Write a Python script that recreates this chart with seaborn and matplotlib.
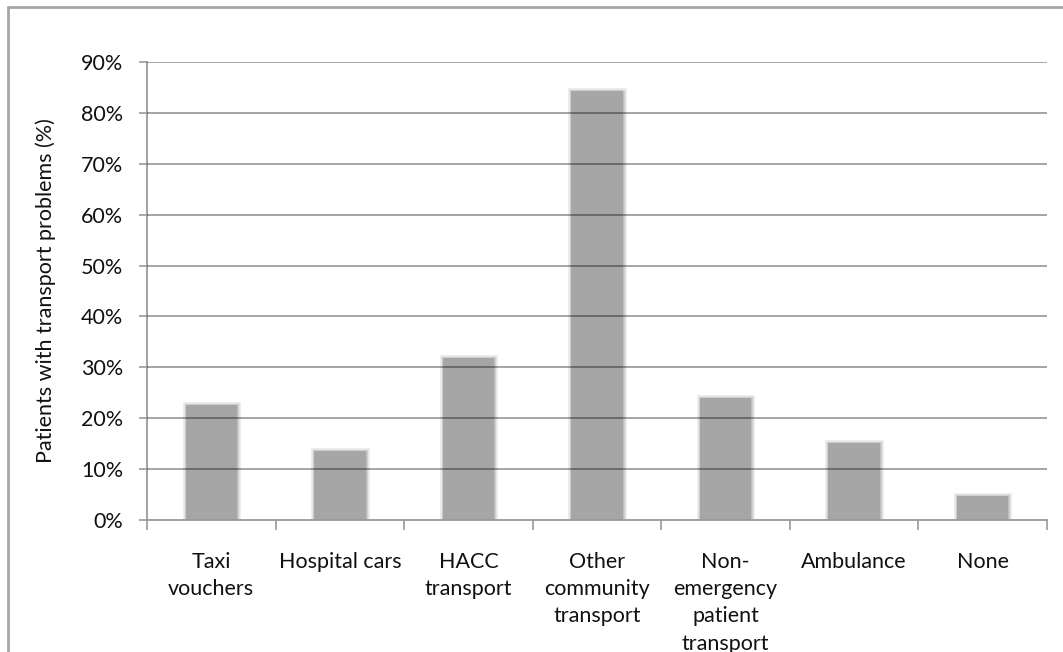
import matplotlib
matplotlib.use("Agg")
import matplotlib.pyplot as plt
import matplotlib.patheffects as pe
from matplotlib.lines import Line2D
from matplotlib.ticker import FixedLocator, FuncFormatter
import numpy as np
import pandas as pd
import seaborn as sns

# Transport used by patients reporting transport problems
categories = [
    "Taxi\nvouchers",
    "Hospital cars",
    "HACC\ntransport",
    "Other\ncommunity\ntransport",
    "Non-\nemergency\npatient\ntransport",
    "Ambulance",
    "None",
]
shares = [0.226, 0.135, 0.318, 0.843, 0.240, 0.151, 0.047]
y_ticks = [0.0, 0.1, 0.2, 0.3, 0.4, 0.5, 0.6, 0.7, 0.8, 0.9]
y_label = "Patients with transport problems (%)"

sns.set_theme(style="white")
plt.rcParams["font.family"] = ["Lato", "DejaVu Sans"]

bar_color = "#a6a6a6"
axis_color = "#9a9a9a"
text_color = "#111111"
fs = 15.5

df = pd.DataFrame({"category": categories, "share": shares})

fig = plt.figure(figsize=(10.63, 6.52), dpi=100)
ax = fig.add_axes([147 / 1063, 1 - 520 / 652, 900 / 1063, 458 / 652])

sns.barplot(data=df, x="category", y="share", color=bar_color,
            saturation=1, width=0.4, ax=ax, zorder=2)

# soft edges on the bars
for p in ax.patches:
    p.set_edgecolor("none")
    p.set_path_effects([
        pe.Stroke(linewidth=5, foreground=bar_color, alpha=0.2),
        pe.Stroke(linewidth=2.5, foreground=bar_color, alpha=0.45),
        pe.Normal(),
    ])

ax.set_ylim(0, 0.9)
ax.set_xlim(-0.5, len(categories) - 0.5)

# horizontal gridlines drawn over the bars
for t in y_ticks[1:]:
    ax.axhline(t, color="black", alpha=0.38, linewidth=1.3, zorder=3)

ax.yaxis.set_major_locator(FixedLocator(y_ticks))
ax.yaxis.set_major_formatter(FuncFormatter(lambda v, _: f"{v * 100:.0f}%"))
ax.tick_params(axis="y", which="major", direction="out", length=6, width=1.2,
               color=axis_color, left=True, pad=11, labelsize=fs,
               labelcolor=text_color)

# boundary ticks between categories, labels centred under bars
ax.xaxis.set_major_locator(FixedLocator(np.arange(-0.5, len(categories), 1.0)))
ax.xaxis.set_major_formatter(FuncFormatter(lambda v, _: ""))
ax.set_xticks(np.arange(len(categories)), minor=True)
ax.set_xticklabels(categories, minor=True, fontsize=fs, color=text_color,
                   linespacing=1.45, va="top", ha="center")
ax.tick_params(axis="x", which="major", direction="out", length=7, width=1.2,
               color=axis_color, bottom=True)
ax.tick_params(axis="x", which="minor", length=0, pad=23)

ax.set_xlabel("")
ax.set_ylabel(y_label, fontsize=fs, color=text_color, labelpad=18)

for side in ("top", "right"):
    ax.spines[side].set_visible(False)
for side in ("left", "bottom"):
    ax.spines[side].set_color(axis_color)
    ax.spines[side].set_linewidth(1.3)

# frame around the chart area
border = "#a6a6a6"
fig.add_artist(Line2D([8 / 1063, 8 / 1063], [0, 1 - 7 / 652],
                      transform=fig.transFigure, color=border, linewidth=2))
fig.add_artist(Line2D([8 / 1063, 1], [1 - 7 / 652, 1 - 7 / 652],
                      transform=fig.transFigure, color=border, linewidth=2))

fig.savefig("out.png", dpi=100)
